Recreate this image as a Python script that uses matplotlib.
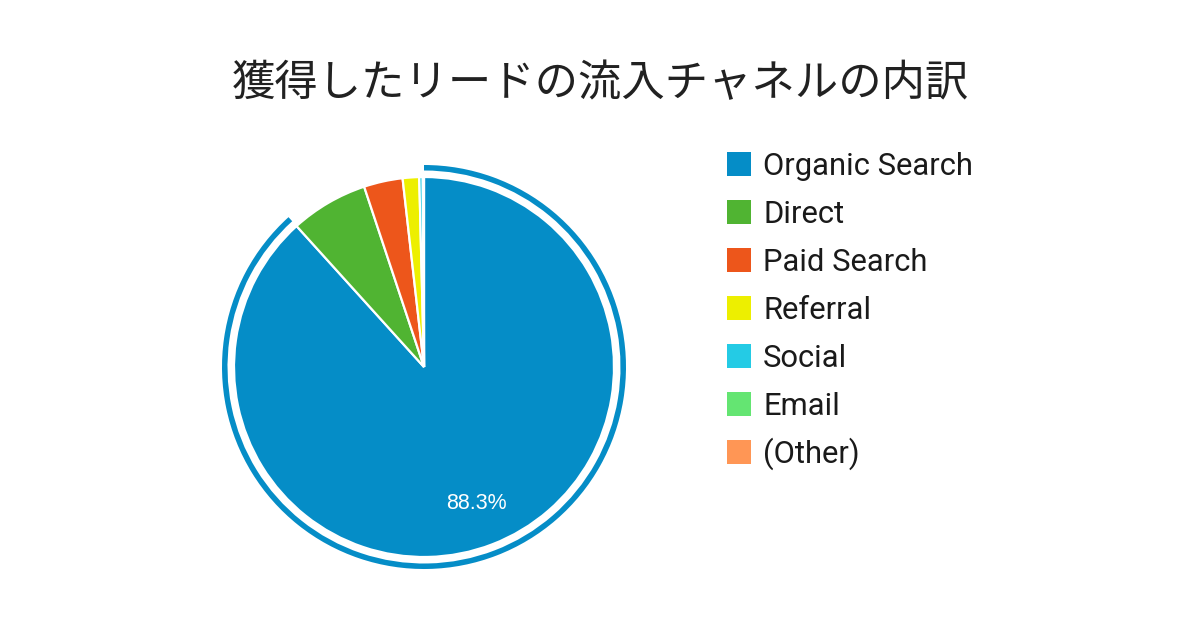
import matplotlib
matplotlib.use("Agg")
import matplotlib.pyplot as plt
from matplotlib.patches import Wedge, Rectangle

title = "獲得したリードの流入チャネルの内訳"
channels = ["Organic Search", "Direct", "Paid Search", "Referral", "Social", "Email", "(Other)"]
shares = [88.3, 6.6, 3.3, 1.4, 0.3, 0.07, 0.03]
colors = ["#058DC7", "#50B432", "#ED561B", "#EDEF00", "#24CBE5", "#64E572", "#FF9655"]

W, H = 1200, 630
fig = plt.figure(figsize=(W / 100, H / 100), dpi=100)
fig.patch.set_facecolor("white")
ax = fig.add_axes([0, 0, 1, 1])

cx, cy, r = 424, H - 367, 190

def pct_fmt(p):
    return f"{p:.1f}%" if p > 50 else ""

wedges, texts, autotexts = ax.pie(
    shares, colors=colors, startangle=90, counterclock=False,
    center=(cx, cy), radius=r, autopct=pct_fmt, pctdistance=0.77,
    wedgeprops=dict(edgecolor="white", linewidth=1.6),
    textprops=dict(color="white", fontsize=15.5, family=["Liberation Sans", "DejaVu Sans"]),
)

# highlight ring around the largest slice
w0 = wedges[0]
ring = Wedge((cx, cy), r + 12, w0.theta1, w0.theta2, width=5.5,
             facecolor=colors[0], edgecolor="none")
ax.add_patch(ring)

ax.set_xlim(0, W)
ax.set_ylim(0, H)
ax.set_aspect("equal")
ax.axis("off")

# title
ax.text(600, H - 84, title, ha="center", va="center", fontsize=31.2,
        color="#212121", family=["Noto Sans CJK JP", "DejaVu Sans"])

# legend
for i, (name, col) in enumerate(zip(channels, colors)):
    yc = H - (164 + 48 * i)
    ax.add_patch(Rectangle((727, yc - 12), 24, 24, facecolor=col, edgecolor="none"))
    ax.text(763, yc - 11, name, ha="left", va="baseline", fontsize=22.3,
            color="#1a1a1a", family=["Roboto", "DejaVu Sans"])

fig.savefig("out.png", dpi=100, facecolor="white")
